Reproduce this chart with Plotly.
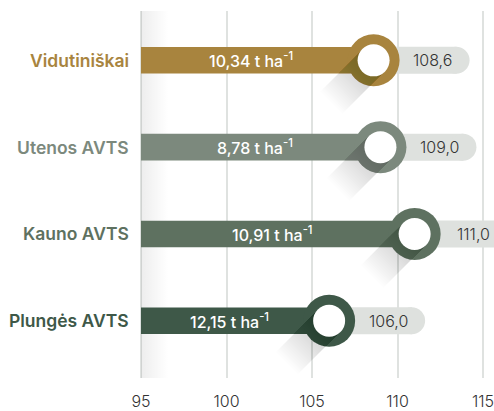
import plotly.graph_objects as go

categories = ["Plungės AVTS", "Kauno AVTS", "Utenos AVTS", "Vidutiniškai"]
index_values = [106.0, 111.0, 109.0, 108.6]
yields = ["12,15", "10,91", "8,78", "10,34"]
index_labels = ["106,0", "111,0", "109,0", "108,6"]
colors = ["#3E5848", "#5E7160", "#7C897D", "#A8843E"]
x_ticks = [95, 100, 105, 110, 115]

base = 95
pill = "#DEE1DE"
grid = "#DFE2E0"
font = "Inter"

fig = go.Figure()

# soft shading to the right of the first gridline
fig.add_trace(go.Scatter(
    x=[base, base + 1.6, base + 1.6, base, base],
    y=[-0.66, -0.66, 3.57, 3.57, -0.66],
    fill="toself", mode="none", hoverinfo="skip", showlegend=False,
    fillgradient=dict(type="horizontal",
                      colorscale=[[0, "rgba(0,0,0,0.07)"], [1, "rgba(0,0,0,0)"]]),
))

shapes = []
annotations = []
half = 0.153
for i, (cat, v, yl, lab, c) in enumerate(zip(categories, index_values, yields, index_labels, colors)):
    pix = dict(xref="x", yref="y", xsizemode="pixel", ysizemode="pixel",
               xanchor=v, yanchor=i, layer="above", line_width=0)
    # grey pill behind the value
    shapes.append(dict(type="rect", x0=0, x1=83, y0=-13.5, y1=13.5, fillcolor=pill, **pix))
    shapes.append(dict(type="circle", x0=69, x1=96, y0=-13.5, y1=13.5, fillcolor=pill, **pix))
    # bar
    shapes.append(dict(type="rect", xref="x", yref="y", x0=base, x1=v, y0=i - half, y1=i + half,
                       fillcolor=c, line_width=0, layer="above"))
    # ring
    shapes.append(dict(type="circle", x0=-26, x1=26, y0=-26, y1=26, fillcolor=c, **pix))
    # long shadow, stacked thin layers for a smooth fade
    r = 16 / 2 ** 0.5
    for L in range(2, 62, 2):
        d = L / 2 ** 0.5
        path = f"M{r},{-r} L{-r},{r} L{-r - d},{r - d} L{r - d},{-r - d} Z"
        shapes.append(dict(type="path", path=path, fillcolor="rgba(0,0,0,0.006)", **pix))
    # inner white circle
    shapes.append(dict(type="circle", x0=-16, x1=16, y0=-16, y1=16, fillcolor="white", **pix))

    annotations.append(dict(x=v, y=i, text=lab, showarrow=False, xshift=59,
                            font=dict(family=font, size=16, color="#333333", weight=300)))
    annotations.append(dict(x=(base + v) / 2, y=i, text=f"{yl} t ha<sup>-1</sup>", showarrow=False,
                            xshift=-6, font=dict(family=font, size=16, color="white", weight=500)))
    annotations.append(dict(x=base, y=i, text=cat, showarrow=False, xanchor="right", xshift=-10,
                            font=dict(family=font, size=17.5, color=c, weight=600)))

fig.update_layout(
    width=494, height=411,
    margin=dict(l=138, r=0, t=11, b=28),
    plot_bgcolor="white", paper_bgcolor="white",
    shapes=shapes, annotations=annotations,
    showlegend=False,
    xaxis=dict(range=[94.825, 115.64], tickvals=x_ticks, showgrid=True, gridcolor=grid, gridwidth=2,
               zeroline=False, showline=False, ticks="outside", ticklen=9, tickcolor="rgba(0,0,0,0)",
               ticklabeloverflow="allow",
               tickfont=dict(family=font, size=16, color="#333333", weight=300)),
    yaxis=dict(range=[-0.659, 3.568], showgrid=False, zeroline=False, showticklabels=False),
)

fig.write_html("out.html", config={"displayModeBar": False},
               post_script="document.body.style.margin='0';document.body.style.overflow='hidden';")
